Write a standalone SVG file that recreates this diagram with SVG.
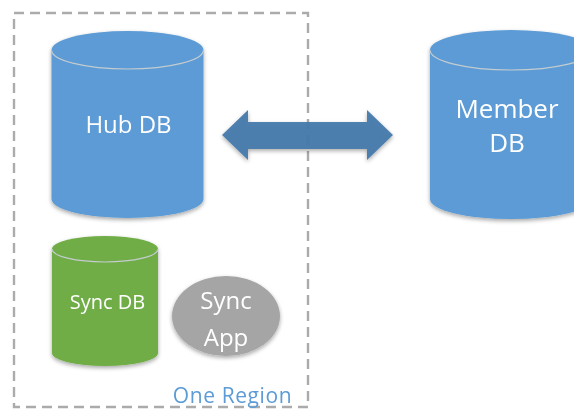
<svg xmlns="http://www.w3.org/2000/svg" width="574" height="410" viewBox="0 0 574 410">
  <defs>
    <filter id="shadow" x="-10%" y="-10%" width="120%" height="120%">
      <feGaussianBlur in="SourceAlpha" stdDeviation="2"/>
      <feOffset dy="2"/>
      <feComponentTransfer><feFuncA type="linear" slope="0.35"/></feComponentTransfer>
      <feMerge><feMergeNode/><feMergeNode in="SourceGraphic"/></feMerge>
    </filter>
    <filter id="soft" x="-5%" y="-5%" width="110%" height="110%">
      <feGaussianBlur stdDeviation="0.45"/>
    </filter>
  </defs>
  <style>
    text { font-family: "Open Sans", "Noto Sans", sans-serif; fill: #fff; text-anchor: middle; }
    .rim { fill: none; stroke: #c4ccd0; stroke-width: 1.2; }
    .blue { fill: #5b9bd5; }
    .green { fill: #70ad47; }
  </style>
  <g filter="url(#soft)">
  <rect id="region-box" x="14" y="13" width="294" height="394" fill="none" stroke="#ababab" stroke-width="2.4" stroke-dasharray="10 6"/>
  <g id="hub-db">
    <path class="blue" filter="url(#shadow)" d="M51.500 50A76 19 0 0 1 203.500 50V199A76 19 0 0 1 51.500 199Z"/>
    <path class="rim" d="M51.500 50A76 19 0 0 0 203.500 50"/>
    <text x="128.500" y="133" font-size="24">Hub DB</text>
  </g>
  <g id="member-db">
    <path class="blue" filter="url(#shadow)" d="M430 50A81 20 0 0 1 592 50V199A81 20 0 0 1 430 199Z"/>
    <path class="rim" d="M430 50A81 20 0 0 0 592 50"/>
    <text x="507" y="118" font-size="26">Member</text>
    <text x="507" y="152" font-size="26">DB</text>
  </g>
  <g id="sync-db">
    <path class="green" filter="url(#shadow)" d="M52 249A53 13 0 0 1 158 249V353A53 13 0 0 1 52 353Z"/>
    <path class="rim" d="M52 249A53 13 0 0 0 158 249"/>
    <text x="107.500" y="309" font-size="20">Sync DB</text>
  </g>
  <g id="sync-app">
    <ellipse cx="226" cy="316" rx="54" ry="40" fill="#a5a5a5" filter="url(#shadow)"/>
    <text x="226" y="309" font-size="24">Sync</text>
    <text x="226" y="346" font-size="24">App</text>
  </g>
  <g id="connectors">
    <path fill="#4579ab" fill-opacity="0.94" filter="url(#shadow)" d="M222 135L248 110V122H367V110L393 135L367 160V149H248V160Z"/>
  </g>
  <g id="region-label">
    <text x="232.500" y="403" font-size="21" letter-spacing="0.6" style="fill:#5b9bd5">One Region</text>
  </g>
  </g>
</svg>
